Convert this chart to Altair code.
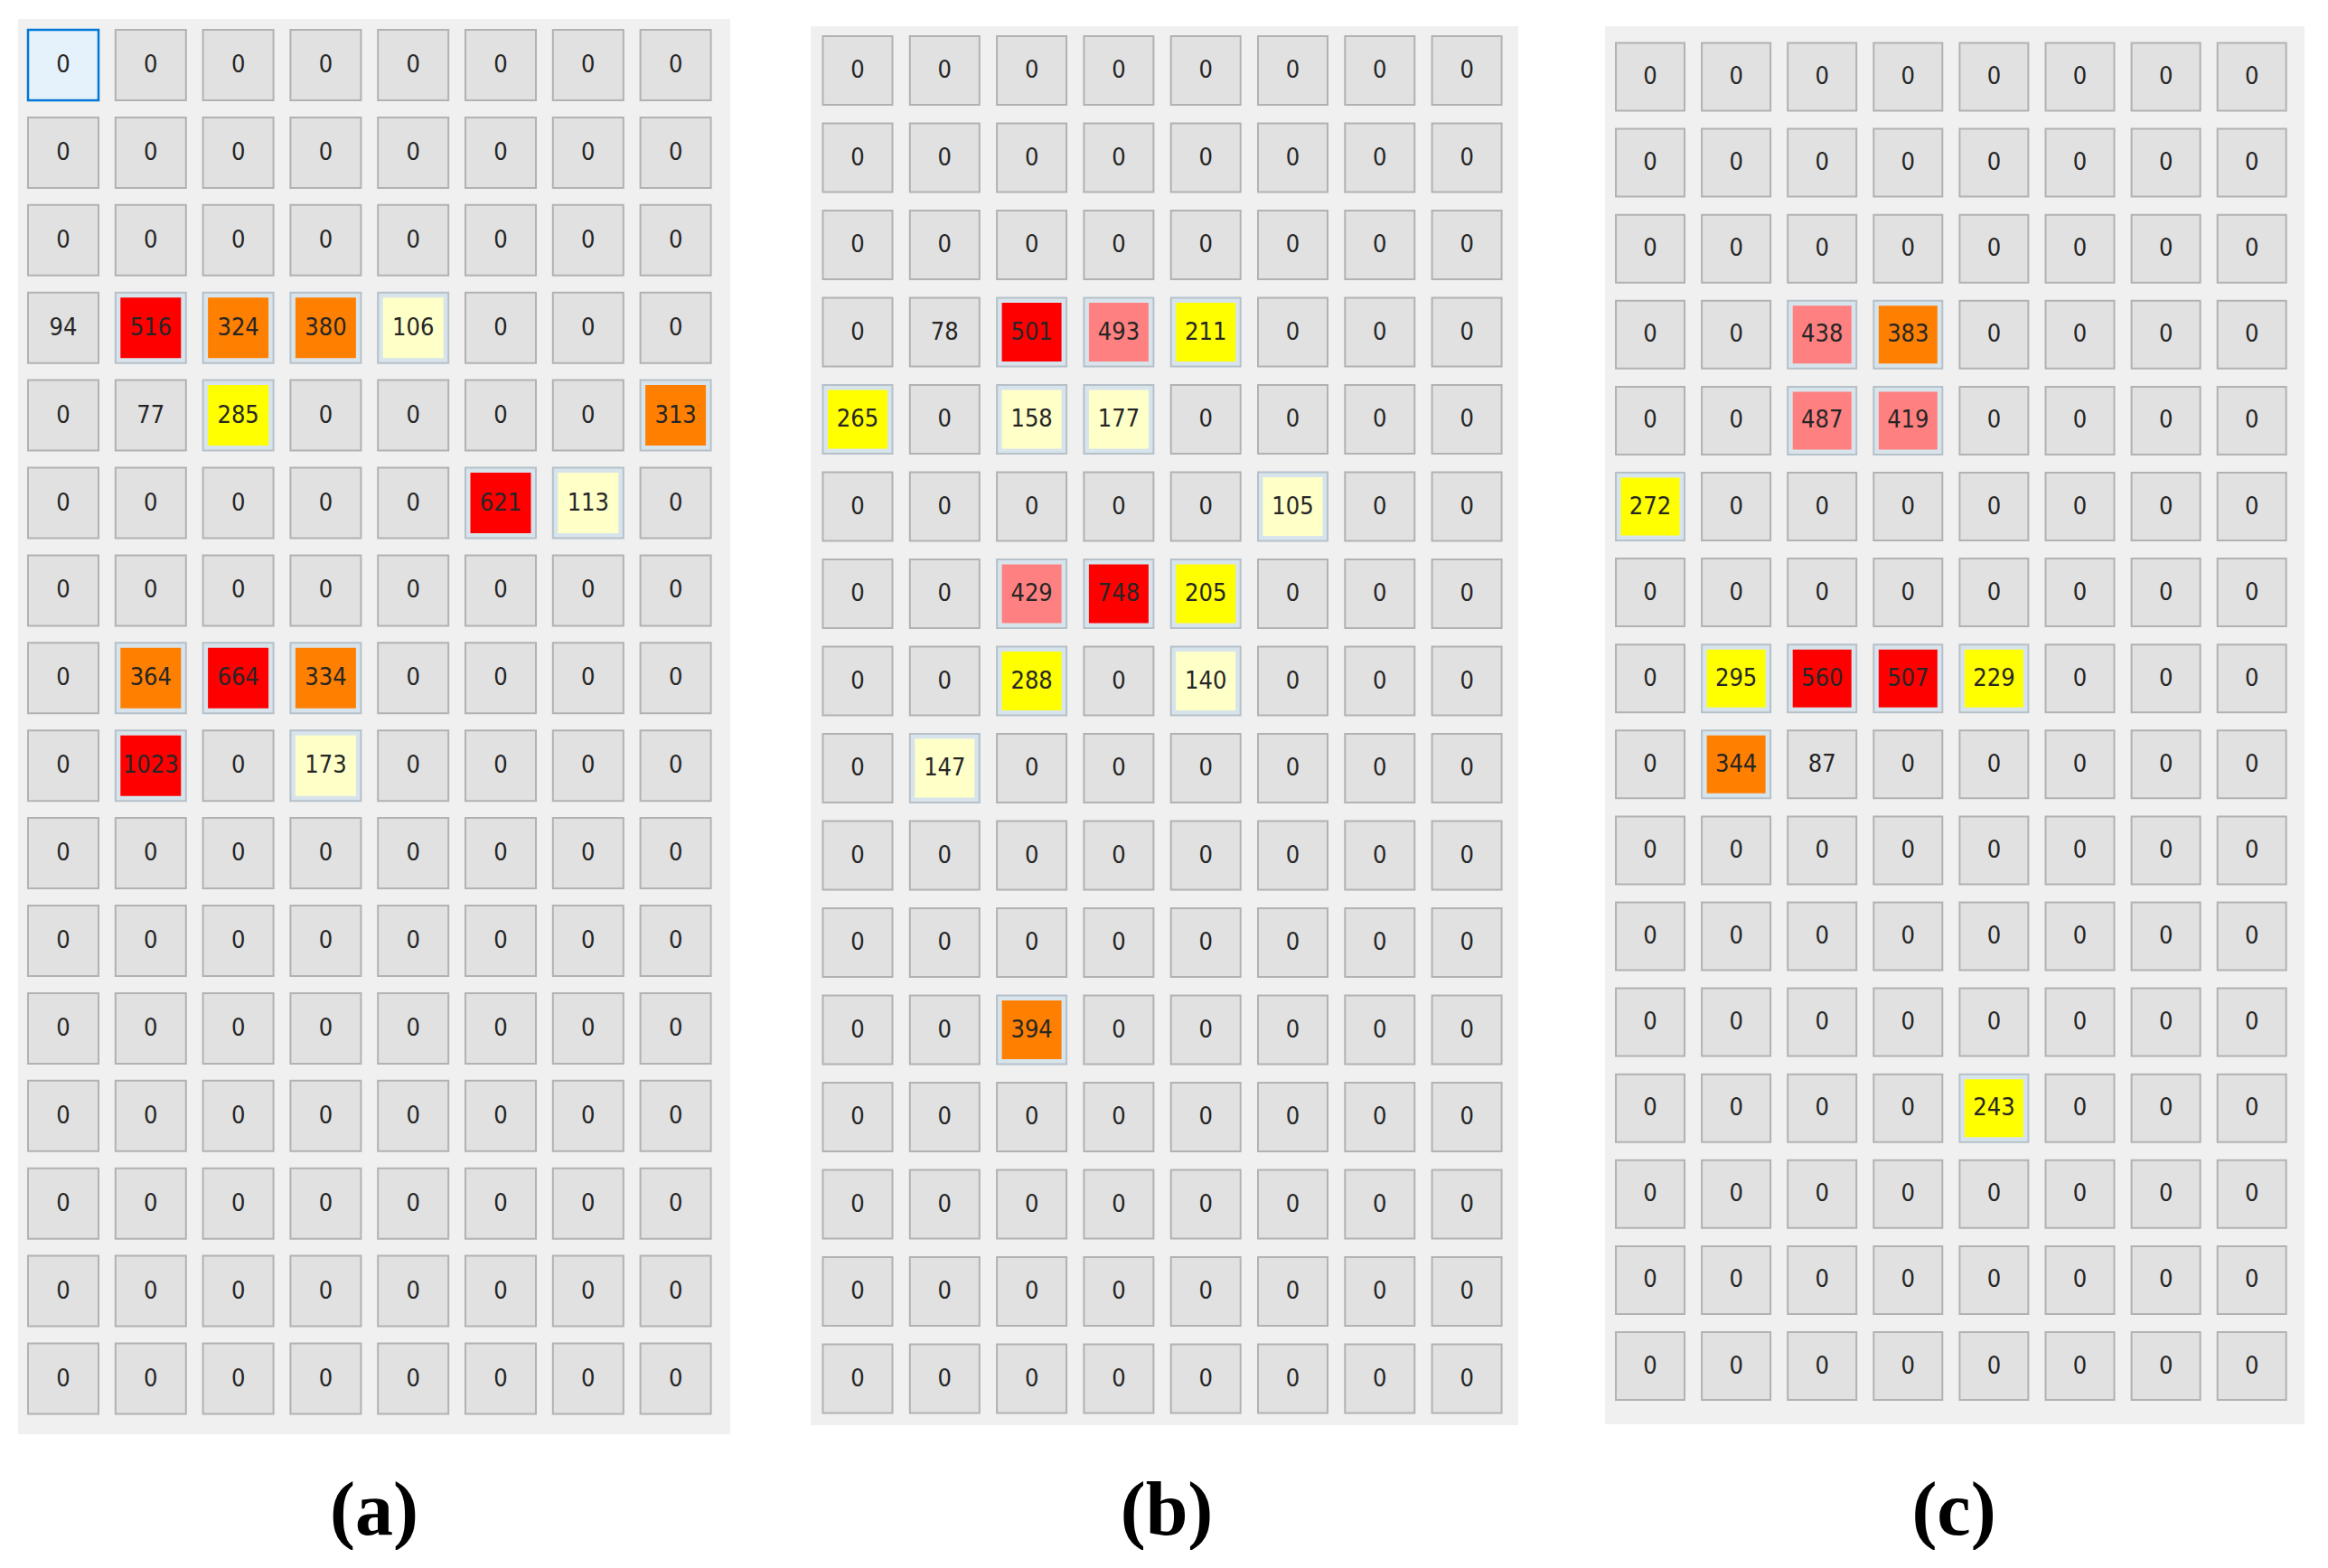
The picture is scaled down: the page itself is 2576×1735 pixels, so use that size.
import altair as alt
import pandas as pd

# ---------------- data ----------------
PANEL_A = [
    [0, 0, 0, 0, 0, 0, 0, 0],
    [0, 0, 0, 0, 0, 0, 0, 0],
    [0, 0, 0, 0, 0, 0, 0, 0],
    [94, 516, 324, 380, 106, 0, 0, 0],
    [0, 77, 285, 0, 0, 0, 0, 313],
    [0, 0, 0, 0, 0, 621, 113, 0],
    [0, 0, 0, 0, 0, 0, 0, 0],
    [0, 364, 664, 334, 0, 0, 0, 0],
    [0, 1023, 0, 173, 0, 0, 0, 0],
    [0, 0, 0, 0, 0, 0, 0, 0],
    [0, 0, 0, 0, 0, 0, 0, 0],
    [0, 0, 0, 0, 0, 0, 0, 0],
    [0, 0, 0, 0, 0, 0, 0, 0],
    [0, 0, 0, 0, 0, 0, 0, 0],
    [0, 0, 0, 0, 0, 0, 0, 0],
    [0, 0, 0, 0, 0, 0, 0, 0],
]
PANEL_B = [
    [0, 0, 0, 0, 0, 0, 0, 0],
    [0, 0, 0, 0, 0, 0, 0, 0],
    [0, 0, 0, 0, 0, 0, 0, 0],
    [0, 78, 501, 493, 211, 0, 0, 0],
    [265, 0, 158, 177, 0, 0, 0, 0],
    [0, 0, 0, 0, 0, 105, 0, 0],
    [0, 0, 429, 748, 205, 0, 0, 0],
    [0, 0, 288, 0, 140, 0, 0, 0],
    [0, 147, 0, 0, 0, 0, 0, 0],
    [0, 0, 0, 0, 0, 0, 0, 0],
    [0, 0, 0, 0, 0, 0, 0, 0],
    [0, 0, 394, 0, 0, 0, 0, 0],
    [0, 0, 0, 0, 0, 0, 0, 0],
    [0, 0, 0, 0, 0, 0, 0, 0],
    [0, 0, 0, 0, 0, 0, 0, 0],
    [0, 0, 0, 0, 0, 0, 0, 0],
]
PANEL_C = [
    [0, 0, 0, 0, 0, 0, 0, 0],
    [0, 0, 0, 0, 0, 0, 0, 0],
    [0, 0, 0, 0, 0, 0, 0, 0],
    [0, 0, 438, 383, 0, 0, 0, 0],
    [0, 0, 487, 419, 0, 0, 0, 0],
    [272, 0, 0, 0, 0, 0, 0, 0],
    [0, 0, 0, 0, 0, 0, 0, 0],
    [0, 295, 560, 507, 229, 0, 0, 0],
    [0, 344, 87, 0, 0, 0, 0, 0],
    [0, 0, 0, 0, 0, 0, 0, 0],
    [0, 0, 0, 0, 0, 0, 0, 0],
    [0, 0, 0, 0, 0, 0, 0, 0],
    [0, 0, 0, 0, 243, 0, 0, 0],
    [0, 0, 0, 0, 0, 0, 0, 0],
    [0, 0, 0, 0, 0, 0, 0, 0],
    [0, 0, 0, 0, 0, 0, 0, 0],
]
PANELS = [PANEL_A, PANEL_B, PANEL_C]
LABELS = ["(a)", "(b)", "(c)"]
FOCUSED = {"(a)": (0, 0)}          # the button that has keyboard focus

MIN_HIGHLIGHT = 100
THRESHOLDS = [200, 300, 400, 500]
HEAT_COLORS = ["#FFFFC8", "#FFFF00", "#FF8000", "#FF8080", "#FF0000"]

# ---------------- layout / style ----------------
VIEW_TOP = 8
VIEW_H = 1600
# page-pixel measurements of each panel: first button centre, pitch, button size, panel box
LAYOUT = [
    dict(vl=8, vw=812, X0=70, P=96.8, Y0=72, Py=96.9, bw=78, bh=78, bg=(20, 21, 808, 1587)),
    dict(vl=820, vw=942, X0=949, P=96.3, Y0=78, Py=96.5, bw=77, bh=76, bg=(897, 29, 1680, 1577)),
    dict(vl=1762, vw=800, X0=1826, P=95.1, Y0=85, Py=95.1, bw=76, bh=75, bg=(1776, 29, 2550, 1576)),
]
INSET = 5.5
LABEL_BASELINE = 1698

PANEL_BG = "#F0F0F0"
BTN_FILL = "#E1E1E1"
BTN_STROKE = "#B2B2B2"
RING_FILL = "#D8E4EC"
RING_STROKE = "#B6C0C8"
NUM_FONT = ("Liberation Sans Narrow, Arial Narrow, DejaVu Sans Condensed, Roboto Condensed, "
            "Noto Sans Condensed, Liberation Sans, sans-serif")


def make_panel(grid, label, lay):
    P, Py, X0, Y0 = lay["P"], lay["Py"], lay["X0"], lay["Y0"]
    recs = []
    for r, vals in enumerate(grid):
        for c, v in enumerate(vals):
            recs.append(dict(row=r, col=c, value=v, txt=str(v),
                             focus=bool(FOCUSED.get(label) == (r, c))))
    df = pd.DataFrame(recs)
    hx, hy = lay["bw"] / 2 / P, lay["bh"] / 2 / Py
    ix, iy = hx - INSET / P, hy - INSET / Py
    df["x0"], df["x1"] = df.col - hx, df.col + hx
    df["y0"], df["y1"] = df.row - hy, df.row + hy
    df["ix0"], df["ix1"] = df.col - ix, df.col + ix
    df["iy0"], df["iy1"] = df.row - iy, df.row + iy

    bgl, bgt, bgr, bgb = lay["bg"]
    bgdf = pd.DataFrame([dict(x0=(bgl - X0) / P, x1=(bgr - X0) / P,
                              y0=(bgt - Y0) / Py, y1=(bgb - Y0) / Py)])

    xs = alt.Scale(domain=[(lay["vl"] - X0) / P, (lay["vl"] + lay["vw"] - X0) / P],
                   nice=False, zero=False)
    ys = alt.Scale(domain=[(VIEW_TOP - Y0) / Py, (VIEW_TOP + VIEW_H - Y0) / Py],
                   nice=False, zero=False, reverse=True)

    bg = alt.Chart(bgdf).mark_rect(fill=PANEL_BG).encode(
        x=alt.X("x0:Q", scale=xs, axis=None), x2="x1:Q",
        y=alt.Y("y0:Q", scale=ys, axis=None), y2="y1:Q")

    base = alt.Chart(df)
    hot = alt.datum.value >= MIN_HIGHLIGHT
    outer = base.mark_rect(strokeWidth=2).encode(
        x=alt.X("x0:Q", scale=xs, axis=None), x2="x1:Q",
        y=alt.Y("y0:Q", scale=ys, axis=None), y2="y1:Q",
        fill=alt.when(hot).then(alt.value(RING_FILL)).otherwise(alt.value(BTN_FILL)),
        stroke=alt.when(hot).then(alt.value(RING_STROKE)).otherwise(alt.value(BTN_STROKE)),
    )
    inner = base.transform_filter(hot).mark_rect().encode(
        x=alt.X("ix0:Q", scale=xs, axis=None), x2="ix1:Q",
        y=alt.Y("iy0:Q", scale=ys, axis=None), y2="iy1:Q",
        fill=alt.Color("value:Q", legend=None,
                       scale=alt.Scale(type="threshold", domain=THRESHOLDS, range=HEAT_COLORS)),
    )
    focus = base.transform_filter("datum.focus").mark_rect(
        fill="#E5F1FB", stroke="#0078D7", strokeWidth=2.5).encode(
        x=alt.X("x0:Q", scale=xs, axis=None), x2="x1:Q",
        y=alt.Y("y0:Q", scale=ys, axis=None), y2="y1:Q")
    text = base.mark_text(font=NUM_FONT, fontSize=27, color="#262626",
                          baseline="middle", align="center").encode(
        x=alt.X("col:Q", scale=xs, axis=None),
        y=alt.Y("row:Q", scale=ys, axis=None),
        text="txt:N")

    return alt.layer(bg, outer, inner, focus, text).properties(
        width=lay["vw"], height=VIEW_H,
        view=alt.ViewBackground(strokeWidth=0, strokeOpacity=0, fillOpacity=0),
        title=alt.TitleParams(label, orient="bottom", anchor="middle", frame="group",
                              baseline="alphabetic",
                              offset=LABEL_BASELINE - (VIEW_TOP + VIEW_H),
                              font="Liberation Serif", fontSize=84, fontWeight="bold",
                              color="#000000"))


panels = [make_panel(g, l, lay) for g, l, lay in zip(PANELS, LABELS, LAYOUT)]
chart = alt.hconcat(*panels, spacing=0, padding=0).configure_view(
    strokeWidth=0, strokeOpacity=0).configure(background="#FFFFFF")

chart.save("out.html", embed_options={"renderer": "svg", "actions": False})
